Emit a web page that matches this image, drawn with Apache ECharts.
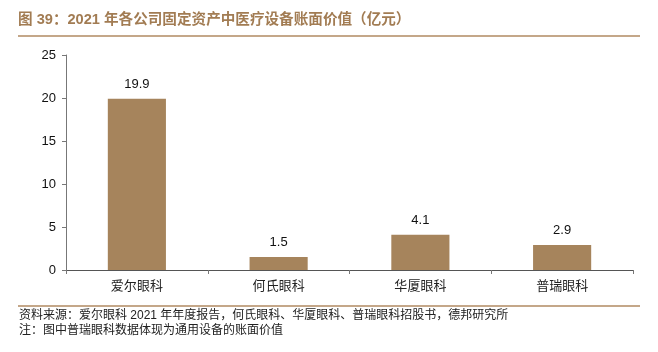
<!DOCTYPE html>
<html>
<head>
<meta charset="utf-8">
<script src="https://cdn.jsdelivr.net/npm/echarts@6/dist/echarts.min.js"></script>
<style>
  html, body { margin: 0; padding: 0; background: #fff; }
  #main { width: 658px; height: 352px; }
</style>
</head>
<body>
<div id="main"></div>
<script>
// 数据
const categories = ["爱尔眼科", "何氏眼科", "华厦眼科", "普瑞眼科"];
const values = [19.9, 1.5, 4.1, 2.9];
const yTicks = [0, 5, 10, 15, 20, 25];

const titleText = "图 39：2021 年各公司固定资产中医疗设备账面价值（亿元）";
const sourceText = "资料来源：爱尔眼科 2021 年年度报告，何氏眼科、华厦眼科、普瑞眼科招股书，德邦研究所";
const noteText = "注：图中普瑞眼科数据体现为通用设备的账面价值";

const brown = "#a6845c";
const font = "Arial, 'Liberation Sans', 'Noto Sans CJK SC', sans-serif";

let myChart = echarts.init(document.getElementById("main"));
myChart.setOption({
  animation: false,
  textStyle: { fontFamily: font },
  grid: { left: 66, right: 25, top: 55, bottom: 82, containLabel: false },
  graphic: [
    {
      type: "text", left: 18, top: 13,
      style: { text: titleText, fill: "#a27c53", font: "bold 14.6px " + font }
    },
    {
      type: "line", shape: { x1: 18, y1: 36, x2: 640, y2: 36 },
      style: { stroke: "#b08a62", lineWidth: 1.5 }
    },
    {
      type: "line", shape: { x1: 18, y1: 306, x2: 640, y2: 306 },
      style: { stroke: "#b08a62", lineWidth: 1.5 }
    },
    {
      type: "text", left: 19, top: 310,
      style: { text: sourceText, fill: "#222", font: "12px " + font }
    },
    {
      type: "text", left: 19, top: 325,
      style: { text: noteText, fill: "#222", font: "12px " + font }
    }
  ],
  xAxis: {
    type: "category",
    data: categories,
    axisLine: { lineStyle: { color: "#555", width: 1 } },
    axisTick: { show: true, alignWithLabel: false, length: 4, lineStyle: { color: "#777" } },
    axisLabel: { color: "#222", fontSize: 13, margin: 10 }
  },
  yAxis: {
    type: "value",
    min: 0,
    max: 25,
    interval: 5,
    axisLine: { show: true, lineStyle: { color: "#777", width: 1 } },
    axisTick: { show: true, length: 4, inside: false, lineStyle: { color: "#777" } },
    splitLine: { show: false },
    axisLabel: {
      color: "#111", fontSize: 13, margin: 10,
      formatter: v => (yTicks.includes(v) ? String(v) : "")
    }
  },
  series: [
    {
      type: "bar",
      data: values,
      barWidth: "41%",
      itemStyle: { color: brown },
      label: {
        show: true,
        position: "top",
        distance: 8,
        color: "#111",
        fontSize: 13,
        formatter: p => p.value.toFixed(1)
      }
    }
  ]
});
</script>
</body>
</html>
